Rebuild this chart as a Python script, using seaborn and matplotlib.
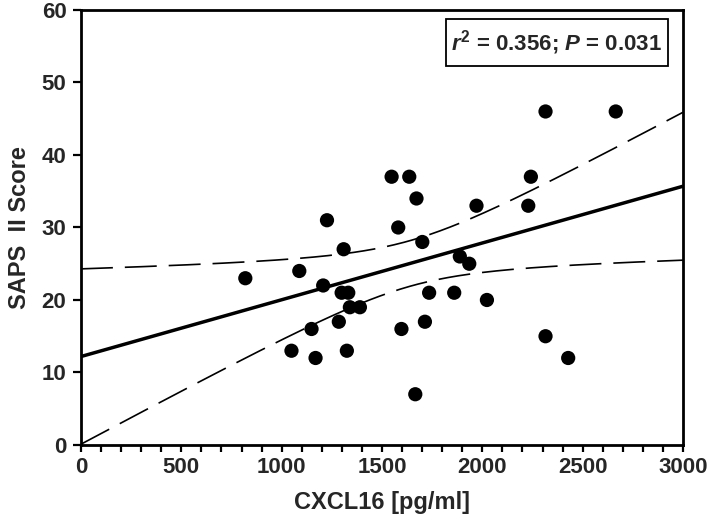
import numpy as np
import pandas as pd
import matplotlib
matplotlib.use("Agg")
import matplotlib.pyplot as plt
from matplotlib.ticker import MultipleLocator
from matplotlib.patches import Rectangle
import seaborn as sns

# ---- data ----
cxcl16 = [819, 1049, 1088, 1149, 1169, 1207, 1226, 1285, 1299, 1309, 1325, 1332,
          1340, 1390, 1548, 1581, 1597, 1636, 1666, 1672, 1701, 1714, 1735, 1860,
          1888, 1935, 1971, 2023, 2229, 2242, 2315, 2315, 2428, 2665]
saps = [23, 13, 24, 16, 12, 22, 31, 17, 21, 27, 13, 21,
        19, 19, 37, 30, 16, 37, 7, 34, 28, 17, 21, 21,
        26, 25, 33, 20, 33, 37, 46, 15, 12, 46]

# regression line as drawn in the reference
fit_intercept = 12.2
fit_slope = 0.00783
t_crit = 2.037  # t(0.975, df=32)

x_ticks = [0, 500, 1000, 1500, 2000, 2500, 3000]
y_ticks = [0, 10, 20, 30, 40, 50, 60]
x_label = "CXCL16 [pg/ml]"
y_label = "SAPS  II Score"
stat_text = r"$r^{2}$ = 0.356; $P$ = 0.031"

df = pd.DataFrame({"CXCL16": cxcl16, "SAPS": saps})

sns.set_theme(style="ticks")
plt.rcParams["font.family"] = ["Liberation Sans", "DejaVu Sans"]
plt.rcParams["font.weight"] = "bold"
plt.rcParams["mathtext.fontset"] = "custom"
plt.rcParams["mathtext.it"] = "Liberation Sans:italic:bold"
plt.rcParams["mathtext.rm"] = "Liberation Sans:bold"
plt.rcParams["mathtext.bf"] = "Liberation Sans:bold"
plt.rcParams["lines.scale_dashes"] = False

fig = plt.figure(figsize=(7.09, 5.25), dpi=100)
ax = fig.add_axes([0.1142, 0.1524, 0.8491, 0.8286])

# regression line and 95% confidence band
xv = df["CXCL16"].to_numpy(float)
yv = df["SAPS"].to_numpy(float)
n = len(xv)
xm = xv.mean()
sxx = ((xv - xm) ** 2).sum()
resid = yv - (fit_intercept + fit_slope * xv)
s = np.sqrt((resid ** 2).sum() / (n - 2))
grid = np.linspace(0, 3000, 301)
fit = fit_intercept + fit_slope * grid
half = t_crit * s * np.sqrt(1.0 / n + (grid - xm) ** 2 / sxx)

ax.plot(grid, fit, color="black", lw=2.5, solid_capstyle="butt", zorder=2)
for band in (fit + half, fit - half):
    ax.plot(grid, band, color="black", lw=1.2, dashes=(23, 8.6), zorder=2)

sns.scatterplot(data=df, x="CXCL16", y="SAPS", color="black", s=105,
                edgecolor="none", ax=ax, zorder=3)

ax.set_xlim(0, 3000)
ax.set_ylim(0, 60)
ax.set_xticks(x_ticks)
ax.set_yticks(y_ticks)
ax.xaxis.set_minor_locator(MultipleLocator(100))
ax.tick_params(axis="x", which="both", direction="out", length=5, width=1.6,
               labelsize=16, pad=4, color="black")
ax.tick_params(axis="y", which="major", direction="out", length=5.5, width=1.6,
               labelsize=16, pad=5, color="black")
for lab in ax.get_xticklabels() + ax.get_yticklabels():
    lab.set_fontweight("bold")

for sp in ax.spines.values():
    sp.set_linewidth(2.0)
    sp.set_color("black")
    sp.set_visible(True)

ax.set_xlabel(x_label, fontsize=17, fontweight="bold", labelpad=9)
ax.set_ylabel(y_label, fontsize=17, fontweight="bold", labelpad=8)

ax.add_patch(Rectangle((0.606, 0.871), 0.369, 0.108, transform=ax.transAxes,
                       fc="white", ec="black", lw=1.3, zorder=4))
ax.text(0.79, 0.925, stat_text, transform=ax.transAxes, ha="center",
        va="center", fontsize=16, fontweight="bold", zorder=5)

fig.savefig("out.png", dpi=100)
